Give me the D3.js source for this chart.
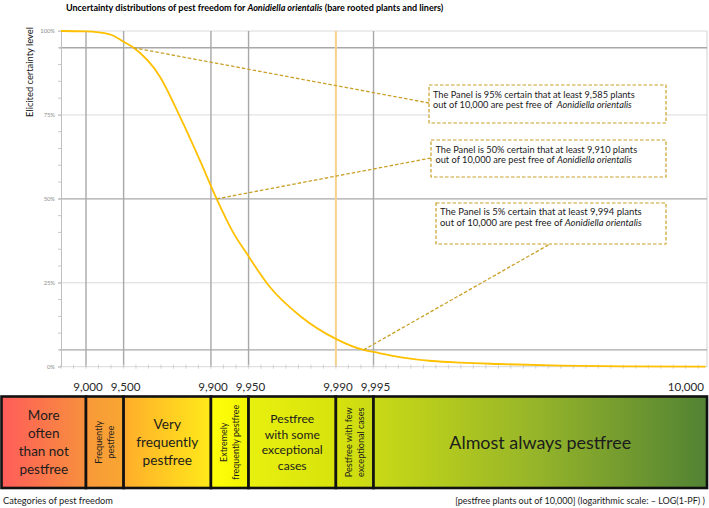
<!DOCTYPE html>
<html><head><meta charset="utf-8">
<script src="https://cdn.jsdelivr.net/npm/d3@7"></script>
<style>html,body{margin:0;padding:0;background:#fff;} svg{display:block;font-family:Lato,"Open Sans",sans-serif;} text{white-space:pre;}</style>
</head><body><svg id="c" width="709" height="508"></svg>
<script>
// ---- data ----
const pestFree  = [8415, 9000, 9357, 9500, 9585, 9744, 9823, 9877, 9910, 9932, 9950, 9966, 9981, 9990, 9994, 9995, 9997, 9998.3, 9999, 9999.5, 9999.84, 9999.95, 9999.989];
const certainty = [1.000, 0.999, 0.990, 0.968, 0.950, 0.864, 0.745, 0.616, 0.500, 0.407, 0.329, 0.239, 0.149, 0.083, 0.050, 0.044, 0.028, 0.017, 0.012, 0.008, 0.003, 0.001, 0.000];
const xTickValues = [9000, 9500, 9900, 9950, 9990, 9995, 10000];
const yTickValues = [0, 0.25, 0.5, 0.75, 1];
const darkLevels = [0.05, 0.5, 0.95];
const lightLevels = [0.25, 0.75, 1];
const guideValues = [9000, 9500, 9900, 9950, 9990, 9995];
const highlightValue = 9990;
const categoryBounds = [5000, 9000, 9500, 9900, 9950, 9990, 9995, 10000];
const categoryLabels = [
  ["More", "often", "than not", "pestfree"],
  ["Frequently", "pestfree"],
  ["Very", "frequently", "pestfree"],
  ["Extremely", "frequently pestfree"],
  ["Pestfree", "with some", "exceptional", "cases"],
  ["Pestfree with few", "exceptional cases"],
  ["Almost always pestfree"]
];
const categoryRotated = [false, true, false, true, false, true, false];
const calloutLevels = [0.95, 0.50, 0.05];
const calloutValues = [9585, 9910, 9994];
const species = "Aonidiella orientalis";

// ---- layout ----
const svg = d3.select("#c");
const plot = {left: 61, right: 707, top: 31, bottom: 366.7};
const x = d3.scaleLog().domain([Math.pow(10, -0.8), Math.pow(10, -5.97)]).range([plot.left, plot.right]);
const px = v => v >= 10000 ? plot.right : x(1 - v / 10000);
const y = d3.scaleLinear().domain([0, 1]).range([plot.bottom, plot.top]);
const fmt = d3.format(",");

function fit(sel, w) {
  const fs = parseFloat(sel.attr("font-size"));
  const len = sel.node().getComputedTextLength();
  const nf = fs * w / len;
  sel.attr("font-size", nf);
  return nf;
}

// gradient for category band
const defs = svg.append("defs");
const grad = defs.append("linearGradient").attr("id", "band").attr("gradientUnits", "userSpaceOnUse")
  .attr("x1", 0).attr("x2", 709).attr("y1", 0).attr("y2", 0);
[[0, "#FF5B5A"], [0.12, "#F7903D"], [0.125, "#F89A38"], [0.175, "#F8A632"], [0.18, "#FFB02A"],
 [0.295, "#FFE81A"], [0.30, "#FFFF0A"], [0.35, "#F2F400"], [0.353, "#E8F00E"], [0.47, "#D8E30C"],
 [0.53, "#C8D916"], [0.76, "#95B42A"], [1, "#518234"]]
  .forEach(s => grad.append("stop").attr("offset", s[0]).attr("stop-color", s[1]));

// light gridlines
svg.append("g").selectAll("line").data(lightLevels).join("line")
  .attr("x1", plot.left).attr("x2", plot.right).attr("y1", d => y(d)).attr("y2", d => y(d))
  .attr("stroke", "#DADADA").attr("stroke-width", 1);
// bottom + right frame
svg.append("line").attr("x1", plot.left).attr("x2", plot.right).attr("y1", y(0)).attr("y2", y(0)).attr("stroke", "#D9D9D9");
svg.append("line").attr("x1", plot.right).attr("x2", plot.right).attr("y1", y(1)).attr("y2", y(0)).attr("stroke", "#D0D0D0");

// dark horizontal guides
svg.append("g").selectAll("line").data(darkLevels).join("line")
  .attr("x1", plot.left - 2).attr("x2", plot.right).attr("y1", d => y(d)).attr("y2", d => y(d))
  .attr("stroke", "#A8A8A8").attr("stroke-width", 1.4);

// vertical guides
svg.append("g").selectAll("line").data(guideValues).join("line")
  .attr("x1", d => px(d)).attr("x2", d => px(d)).attr("y1", y(1)).attr("y2", y(0))
  .attr("stroke", d => d === highlightValue ? "#F6D28C" : "#A8A8A8")
  .attr("stroke-width", d => d === highlightValue ? 2 : 1.4);

// x minor ticks
const minor = d3.range(0.8, 5.95, 0.1).map(l => Math.pow(10, -l));
svg.append("g").selectAll("line").data(minor).join("line")
  .attr("x1", d => x(d)).attr("x2", d => x(d)).attr("y1", y(0) - 2).attr("y2", y(0) + 2)
  .attr("stroke", "#D0D0D0");

// y axis
const yAxis = svg.append("g").attr("transform", `translate(${plot.left},0)`)
  .call(d3.axisLeft(y).tickValues(yTickValues).tickFormat(d3.format(".0%")).tickSize(3).tickSizeOuter(0).tickPadding(3));
yAxis.select(".domain").attr("stroke", "#BFBFBF");
yAxis.selectAll(".tick line").attr("stroke", "#C8C8C8");
yAxis.selectAll(".tick text").attr("font-size", 5.8).attr("fill", "#8C8C8C").attr("font-family", "Lato");
svg.append("g").selectAll("line").data(d3.range(0, 1.0001, 0.05)).join("line")
  .attr("x1", plot.left - 3).attr("x2", plot.left).attr("y1", d => y(d)).attr("y2", d => y(d))
  .attr("stroke", "#C8C8C8");

// y title
const yt = svg.append("text").attr("transform", "translate(33,72) rotate(-90)")
  .attr("text-anchor", "middle").attr("font-size", 10).attr("fill", "#111").text("Elicited certainty level");
fit(yt, 90);

// curve
const pts = pestFree.map((p, i) => [px(p), y(certainty[i])]);
svg.append("path").datum(pts).attr("d", d3.line().curve(d3.curveMonotoneX))
  .attr("fill", "none").attr("stroke", "#FFC000").attr("stroke-width", 1.8);

// callouts
const boxes = [
  {x: 429, y: 85, w: 237, h: 38, ex: 429, ey: 103, tx: 433, l1: 97.6, sep: "  "},
  {x: 431, y: 140, w: 235, h: 37, ex: 431, ey: 158, tx: 435.5, l1: 152.6, sep: " "},
  {x: 436, y: 203, w: 230, h: 41, ex: 550, ey: 244, tx: 440, l1: 215.3, sep: " "}
];
const gold = "#C9A128";
calloutLevels.forEach((lev, i) => {
  const b = boxes[i];
  svg.append("line").attr("x1", px(calloutValues[i])).attr("y1", y(lev)).attr("x2", b.ex).attr("y2", b.ey)
    .attr("stroke", gold).attr("stroke-width", 1.3).attr("stroke-dasharray", "3.5,2");
  svg.append("rect").attr("x", b.x).attr("y", b.y).attr("width", b.w).attr("height", b.h)
    .attr("fill", "#fff").attr("stroke", gold).attr("stroke-width", 1.2).attr("stroke-dasharray", "3.5,2");
  const t1 = svg.append("text").attr("x", b.tx).attr("y", b.l1).attr("font-size", 10).attr("fill", "#1a1a1a")
    .text(`The Panel is ${Math.round(lev * 100)}% certain that at least ${fmt(calloutValues[i])} plants`);
  const fs = fit(t1, 202);
  const t2 = svg.append("text").attr("x", b.tx).attr("y", b.l1 + 10.8).attr("font-size", fs).attr("fill", "#1a1a1a");
  t2.append("tspan").text("out of 10,000 are pest free of" + b.sep);
  t2.append("tspan").attr("font-style", "italic").text(species);
});

// title
const title = svg.append("text").attr("x", 66).attr("y", 10.5).attr("font-size", 10).attr("font-weight", "bold").attr("fill", "#000");
title.append("tspan").text("Uncertainty distributions of pest freedom for ");
title.append("tspan").attr("font-style", "italic").text(species);
title.append("tspan").text(" (bare rooted plants and liners)");
fit(title, 378);

// x tick labels
svg.append("g").selectAll("text").data(xTickValues).join("text")
  .attr("x", d => d >= 10000 ? plot.right - 3 : px(d) + 2)
  .attr("y", 390.5)
  .attr("text-anchor", d => d >= 10000 ? "end" : "middle")
  .attr("font-size", 11.6).attr("fill", "#2a2a2a").text(d => fmt(d));

// category band
const bandTop = 396.5, bandBot = 488;
const cats = categoryLabels.map((lab, i) => ({
  lab, rot: categoryRotated[i],
  x0: Math.max(1.5, px(categoryBounds[i])), x1: px(categoryBounds[i + 1])
}));
svg.append("g").selectAll("rect").data(cats).join("rect")
  .attr("x", d => d.x0).attr("y", bandTop).attr("width", d => d.x1 - d.x0).attr("height", bandBot - bandTop)
  .attr("fill", "url(#band)").attr("stroke", "#111").attr("stroke-width", 2.6);

const catFit = [{ref: 2, w: 50, lh: 18.3}, {ref: 0, w: 43, lh: 11.6}, {ref: 1, w: 62, lh: 18.3},
  {ref: 1, w: 75, lh: 11.7}, {ref: 2, w: 61, lh: 15.5}, {ref: 0, w: 70, lh: 11.7}, {ref: 0, w: 182, lh: 0}];
cats.forEach((c, i) => {
  const cx = (c.x0 + c.x1) / 2 + (i === 0 ? 0 : 0), cy = (bandTop + bandBot) / 2;
  const g = svg.append("g").attr("transform", c.rot ? `translate(${cx},${cy}) rotate(-90)` : `translate(${cx},${cy})`);
  const n = c.lab.length;
  const ts = c.lab.map((l, j) => g.append("text").attr("text-anchor", "middle").attr("font-size", 10)
    .attr("fill", "#1c1c1c").attr("y", (j - (n - 1) / 2) * catFit[i].lh).attr("dy", "0.35em").text(l));
  const fs = fit(ts[catFit[i].ref], catFit[i].w);
  ts.forEach(t => t.attr("font-size", fs));
});

// bottom notes
const b1 = svg.append("text").attr("x", 3).attr("y", 503.5).attr("font-size", 10).attr("fill", "#1a1a1a").text("Categories of pest freedom");
fit(b1, 110);
const b2 = svg.append("text").attr("x", 705).attr("y", 503.5).attr("text-anchor", "end").attr("font-size", 10).attr("fill", "#1a1a1a")
  .text("[pestfree plants out of 10,000] (logarithmic scale: \u2013 LOG(1-PF) )");
fit(b2, 250);
</script></body></html>
